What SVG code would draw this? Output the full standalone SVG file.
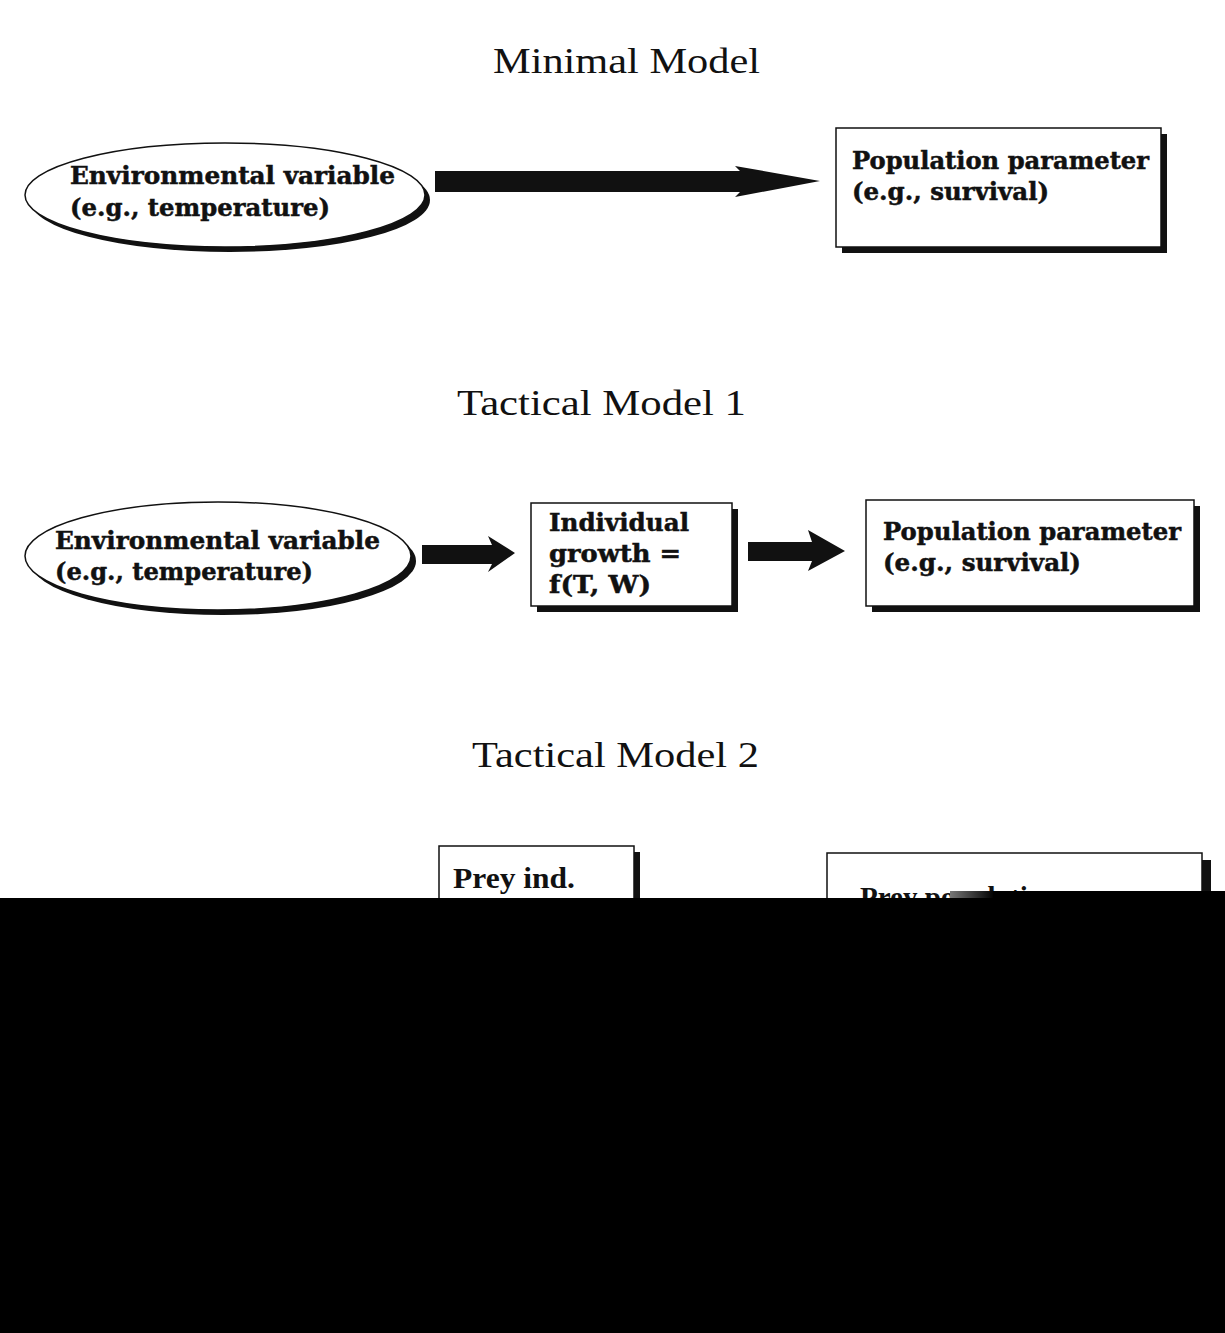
<svg xmlns="http://www.w3.org/2000/svg" width="1225" height="1333" viewBox="0 0 1225 1333">
<style>
.title{font-family:"Liberation Serif","Times New Roman",serif;font-size:35px;fill:#111}
.lbl{font-family:"DejaVu Serif","Liberation Serif",serif;font-weight:bold;font-size:24px;fill:#111;stroke:#111;stroke-width:0.5}
.lbl2{font-family:"Liberation Serif","Times New Roman",serif;font-weight:bold;font-size:29px;fill:#111}
.box{fill:#fff;stroke:#111;stroke-width:1.5}
.shadow{fill:#111}
.arrow{fill:#111}
</style>
<defs>
<linearGradient id="fade" x1="0" y1="0" x2="1" y2="0">
<stop offset="0" stop-color="#777"/>
<stop offset="1" stop-color="#000"/>
</linearGradient>
</defs>
<rect width="1225" height="1333" fill="#fff"/>
<text class="title" x="493" y="73" textLength="267" lengthAdjust="spacingAndGlyphs">Minimal  Model</text>
<text class="title" x="457" y="415" textLength="289" lengthAdjust="spacingAndGlyphs">Tactical Model 1</text>
<text class="title" x="472" y="767" textLength="287" lengthAdjust="spacingAndGlyphs">Tactical Model 2</text>

<g id="env1">
<ellipse class="shadow" cx="230" cy="200" rx="200" ry="52"/>
<ellipse class="box" cx="225" cy="195" rx="200" ry="52"/>
<text class="lbl" x="70" y="184" textLength="325" lengthAdjust="spacingAndGlyphs">Environmental variable</text>
<text class="lbl" x="70" y="216" textLength="260" lengthAdjust="spacingAndGlyphs">(e.g., temperature)</text>
</g>
<g id="pop1">
<rect class="shadow" x="842" y="134" width="325" height="119"/>
<rect class="box" x="836" y="128" width="325" height="119"/>
<text class="lbl" x="852" y="169" textLength="297" lengthAdjust="spacingAndGlyphs">Population parameter</text>
<text class="lbl" x="852" y="200" textLength="197" lengthAdjust="spacingAndGlyphs">(e.g., survival)</text>
</g>

<g id="env2">
<ellipse class="shadow" cx="223" cy="561" rx="193" ry="54"/>
<ellipse class="box" cx="218" cy="556" rx="193" ry="54"/>
<text class="lbl" x="55" y="549" textLength="325" lengthAdjust="spacingAndGlyphs">Environmental variable</text>
<text class="lbl" x="55" y="580" textLength="258" lengthAdjust="spacingAndGlyphs">(e.g., temperature)</text>
</g>
<g id="growth">
<rect class="shadow" x="537" y="509" width="201" height="103"/>
<rect class="box" x="531" y="503" width="201" height="103"/>
<text class="lbl" x="549" y="531" textLength="140" lengthAdjust="spacingAndGlyphs">Individual</text>
<text class="lbl" x="549" y="562" textLength="132" lengthAdjust="spacingAndGlyphs">growth =</text>
<text class="lbl" x="549" y="593" textLength="102" lengthAdjust="spacingAndGlyphs">f(T, W)</text>
</g>
<g id="pop2">
<rect class="shadow" x="872" y="506" width="328" height="106"/>
<rect class="box" x="866" y="500" width="328" height="106"/>
<text class="lbl" x="883" y="540" textLength="298" lengthAdjust="spacingAndGlyphs">Population parameter</text>
<text class="lbl" x="883" y="571" textLength="198" lengthAdjust="spacingAndGlyphs">(e.g., survival)</text>
</g>

<g id="preyind">
<rect class="shadow" x="445" y="852" width="195" height="100"/>
<rect class="box" x="439" y="846" width="195" height="100"/>
<text class="lbl2" x="453" y="888" textLength="122" lengthAdjust="spacingAndGlyphs">Prey ind.</text>
</g>
<g id="preypop">
<rect class="shadow" x="833" y="860" width="378" height="100"/>
<rect class="box" x="827" y="853" width="375" height="100"/>
<text class="lbl2" x="860" y="907">Prey population</text>
</g>

<g id="connectors">
<polygon class="arrow" points="435,171 740,171 735,166 820,181 735,197 740,192 435,192"/>
<polygon class="arrow" points="422,545 492,545 488,536 515,553 488,572 492,564 422,564"/>
<polygon class="arrow" points="748,542 812,542 808,530 845,551 808,571 812,561 748,561"/>
</g>

<rect x="950" y="891" width="44" height="8" fill="url(#fade)"/>
<rect x="993" y="891" width="232" height="8" fill="#000"/>
<rect x="0" y="898" width="1225" height="435" fill="#000"/>
</svg>
